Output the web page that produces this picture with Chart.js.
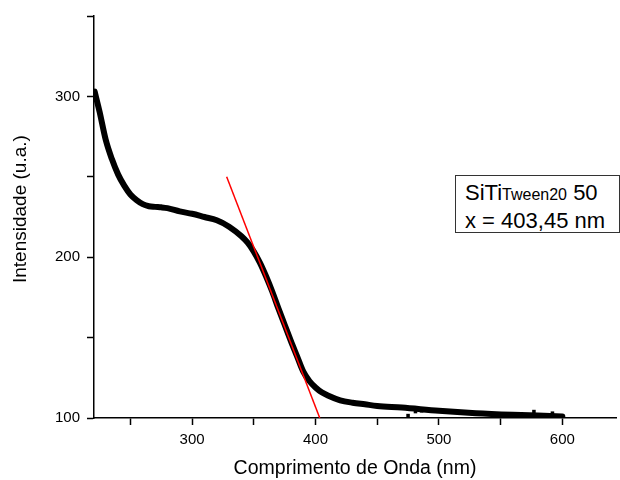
<!DOCTYPE html>
<html>
<head>
<meta charset="utf-8">
<script src="https://cdn.jsdelivr.net/npm/chart.js@4"></script>
<style>
  html, body { margin: 0; padding: 0; background: #fff; }
  #wrap { position: relative; width: 620px; height: 480px; }
  #nota {
    position: absolute; left: 455px; top: 175px; width: 165px; height: 58px;
    border: 1px solid #333; background: #fff; box-sizing: border-box;
    font-family: "Liberation Sans", Arial, sans-serif; font-size: 22px; color: #000;
    padding: 4px 0 0 9px; line-height: 26px; white-space: nowrap;
  }
  #nota small { font-size: 16px; }
</style>
</head>
<body>
<div id="wrap">
  <canvas id="grafico" width="620" height="480"></canvas>
  <div id="nota">SiTi<small>Tween20</small> 50<br>x = 403,45 nm</div>
</div>
<script>
// espectro medido (leitura do gráfico)
const comprimentos = [221, 225, 230, 235, 240, 245, 250, 255, 260, 265, 270, 275, 280, 290, 300, 310, 320, 330, 340, 345, 350,
  355, 360, 365, 370, 375, 380, 385, 390, 395, 400, 405, 410, 420, 430, 440, 450, 470, 500, 530, 560, 580, 600];
const intensidades = [303, 290.5, 273, 261, 251.5, 244.5, 239, 235.5, 233, 231.7, 231.3, 231, 230.5, 228.5, 227, 225, 223, 219, 213, 209, 203.5,
  196.5, 188, 178.5, 168, 158, 148, 138.5, 129, 123, 119, 116, 114, 111, 109.5, 108.5, 107.5, 106.5, 104.5, 103, 102, 101.5, 101];

// pontos de ruído na cauda
const ruidoX = [475, 481, 486, 577, 592];
const ruidoY = [101.5, 104, 104.5, 104, 103];

// reta tangente (extrapolação)
const retaX = [328, 403.45];
const retaY = [250, 100];

const ticksX = [250, 300, 350, 400, 450, 500, 550, 600];
const ticksY = [100, 150, 200, 250, 300, 350];

const fonte = "'Liberation Sans', Arial, sans-serif";

const pontos = (xs, ys) => xs.map((x, i) => ({ x: x, y: ys[i] }));

new Chart(document.getElementById("grafico"), {
  type: "scatter",
  data: {
    datasets: [
      {
        data: pontos(retaX, retaY),
        showLine: true,
        borderColor: "#ff0000",
        borderWidth: 1.5,
        pointRadius: 0,
        order: 0,
      },
      {
        data: pontos(comprimentos, intensidades),
        showLine: true,
        borderColor: "#000",
        borderWidth: 6,
        pointRadius: 0,
        cubicInterpolationMode: "monotone",
        borderCapStyle: "round",
        order: 2,
      },
      {
        data: pontos(ruidoX, ruidoY),
        pointStyle: "rect",
        pointRadius: 2.5,
        backgroundColor: "#000",
        borderWidth: 0,
        order: 1,
      },
    ],
  },
  options: {
    responsive: false,
    animation: false,
    layout: { padding: { top: 15, right: 0, left: 0, bottom: 0 } },
    plugins: { legend: { display: false }, tooltip: { enabled: false } },
    scales: {
      x: {
        type: "linear",
        min: 220.5,
        max: 643.5,
        afterFit: (s) => { s.height = 62; },
        afterBuildTicks: (s) => { s.ticks = ticksX.map((v) => ({ value: v })); },
        border: { color: "#000", width: 1.5 },
        grid: { drawOnChartArea: false, tickLength: 7, tickColor: "#000", tickWidth: 1.5 },
        ticks: {
          color: "#000",
          font: { family: fonte, size: 15 },
          padding: 6,
          maxRotation: 0,
          callback: (v) => (v % 100 === 0 ? v : ""),
        },
        title: {
          display: true,
          text: "Comprimento de Onda (nm)",
          color: "#000",
          font: { family: fonte, size: 19.5 },
          padding: { top: 4, bottom: 0 },
        },
      },
      y: {
        min: 100,
        max: 350,
        afterFit: (s) => { s.width = 94; },
        afterBuildTicks: (s) => { s.ticks = ticksY.map((v) => ({ value: v })); },
        border: { color: "#000", width: 1.5 },
        grid: { drawOnChartArea: false, tickLength: 7, tickColor: "#000", tickWidth: 1.5 },
        ticks: {
          color: "#000",
          font: { family: fonte, size: 15 },
          padding: 7,
          callback: (v) => (v % 100 === 0 ? v : ""),
        },
        title: {
          display: true,
          text: "\u00a0\u00a0\u00a0Intensidade (u.a.)",
          color: "#000",
          font: { family: fonte, size: 19 },
          padding: { top: 9, bottom: 0 },
        },
      },
    },
  },
});
</script>
</body>
</html>
